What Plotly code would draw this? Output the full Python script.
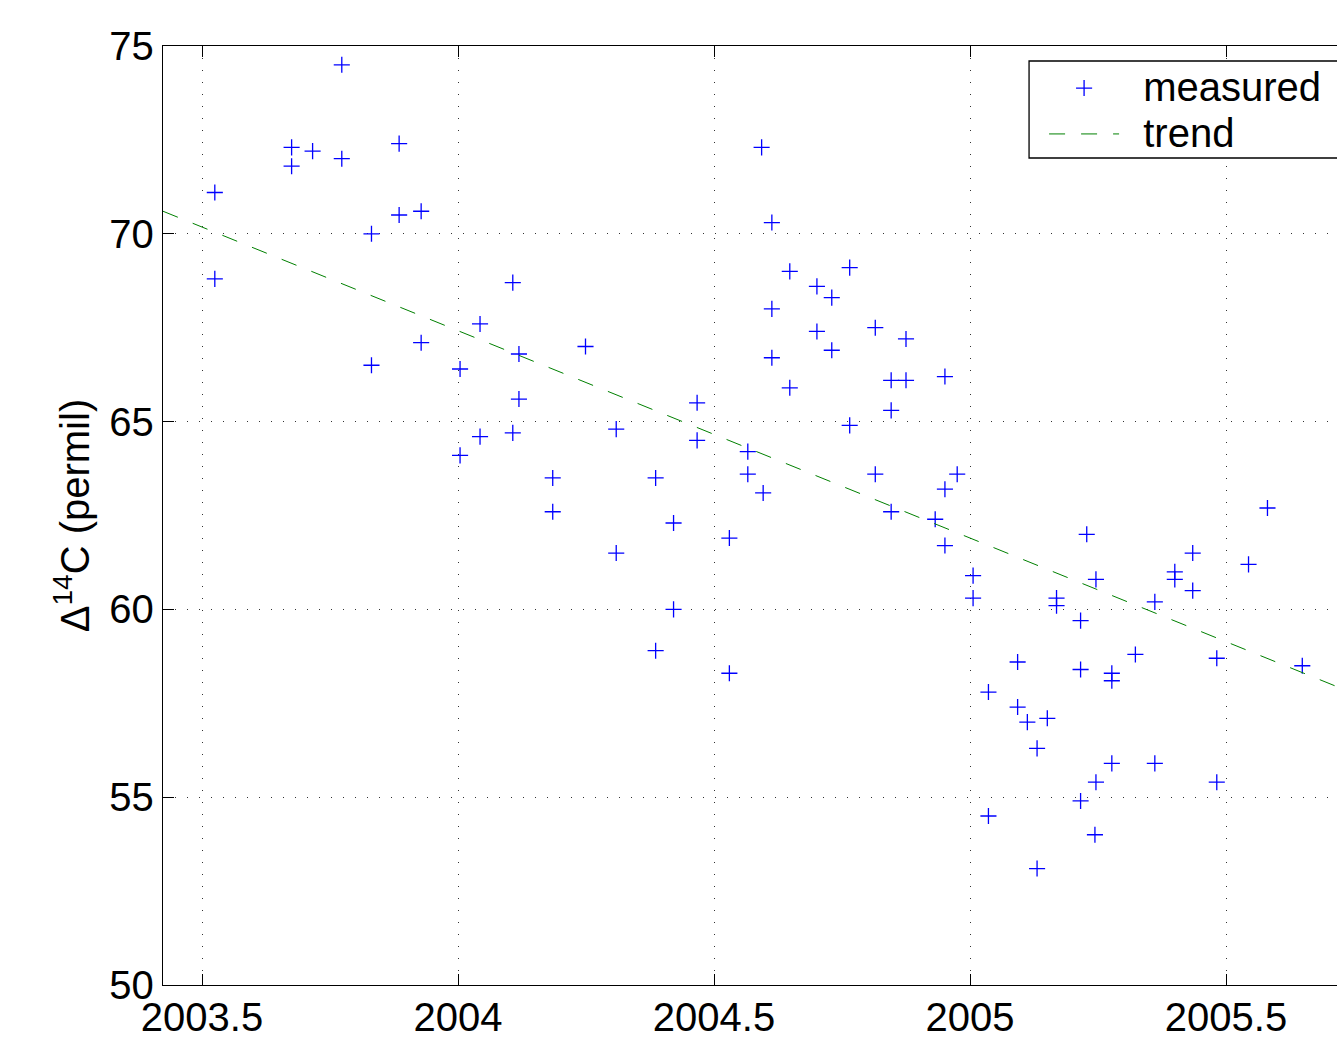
import plotly.graph_objects as go

# Measured data (decimal year, Delta14C permil)
years = [
    2003.525, 2003.525, 2003.675, 2003.675, 2003.716, 2003.773, 2003.773, 2003.831,
    2003.831, 2003.885, 2003.885, 2003.928, 2003.928, 2004.004, 2004.004,
    2004.043, 2004.043, 2004.107, 2004.107, 2004.119, 2004.119, 2004.185, 2004.185,
    2004.249, 2004.309, 2004.309, 2004.386, 2004.386, 2004.421, 2004.421, 2004.467,
    2004.467, 2004.530, 2004.530,
    2004.566, 2004.566, 2004.593, 2004.596, 2004.613, 2004.613, 2004.613, 2004.648,
    2004.648, 2004.701, 2004.701, 2004.730, 2004.730, 2004.765, 2004.765, 2004.815,
    2004.815, 2004.846, 2004.846, 2004.846, 2004.875, 2004.875, 2004.932, 2004.951,
    2004.951, 2004.951, 2004.975,
    2005.006, 2005.006, 2005.036, 2005.036, 2005.093, 2005.093, 2005.112, 2005.131,
    2005.131, 2005.151, 2005.169, 2005.169, 2005.216, 2005.216, 2005.216, 2005.228,
    2005.246, 2005.246, 2005.244, 2005.277, 2005.277, 2005.277, 2005.323,
    2005.361, 2005.361, 2005.400, 2005.400, 2005.435, 2005.435, 2005.482, 2005.482,
    2005.544, 2005.581, 2005.649,
]
delta14c = [
    71.1, 68.8, 72.3, 71.8, 72.2, 74.5, 72.0, 70.0,
    66.5, 72.4, 70.5, 70.6, 67.1, 66.4, 64.1,
    67.6, 64.6, 68.7, 64.7, 66.8, 65.6, 63.5, 62.6,
    67.0, 64.8, 61.5, 63.5, 58.9, 62.3, 60.0, 65.5,
    64.5, 61.9, 58.3,
    64.2, 63.6, 72.3, 63.1, 70.3, 68.0, 66.7, 69.0,
    65.9, 68.6, 67.4, 68.3, 66.9, 69.1, 64.9, 67.5,
    63.6, 66.1, 65.3, 62.6, 67.2, 66.1, 62.4, 66.2,
    63.2, 61.7, 63.6,
    60.9, 60.3, 57.8, 54.5, 58.6, 57.4, 57.0, 56.3,
    53.1, 57.1, 60.3, 60.1, 59.7, 58.4, 54.9, 62.0,
    60.8, 55.4, 54.0, 58.3, 58.1, 55.9, 58.8,
    60.2, 55.9, 61.0, 60.8, 61.5, 60.5, 58.7, 55.4,
    61.2, 62.7, 58.5,
]

# Linear trend parameters
trend_ref_year = 2004.5
trend_at_ref = 64.66
trend_slope = -5.52  # permil per year

# Axes
x_range = [2003.4238, 2005.7168]
y_range = [50, 75]
x_ticks = [2003.5, 2004, 2004.5, 2005, 2005.5]
x_tick_labels = ["2003.5", "2004", "2004.5", "2005", "2005.5"]
y_ticks = [50, 55, 60, 65, 70, 75]
y_tick_labels = ["50", "55", "60", "65", "70", "75"]

trend_x = list(x_range)
trend_y = [trend_at_ref + trend_slope * (x - trend_ref_year) for x in trend_x]

FONT = "Liberation Sans, Arial, Helvetica, sans-serif"

# legend frame (paper coordinates); it runs past the right edge as in the original
LEG_X0, LEG_X1 = 0.7377, 1.05
LEG_Y0, LEG_Y1 = 0.8807, 0.984


def big(txt):
    return '<span style="font-size:40px">&nbsp;&#8201;' + txt + '</span>'


fig = go.Figure()
fig.add_trace(go.Scatter(
    x=years, y=delta14c, mode="markers", name=big("measured"),
    marker=dict(symbol="cross-thin", size=11.5, color="#0000ff",
                line=dict(color="#0000ff", width=1.3)),
))
fig.add_trace(go.Scatter(
    x=trend_x, y=trend_y, mode="lines", name=big("trend"),
    line=dict(color="#008000", width=1, dash="16px,16px"),
))

axis_common = dict(
    showline=True, linecolor="black", linewidth=1.3,
    ticks="inside", ticklen=11, tickwidth=1, tickcolor="black",
    showgrid=True, gridcolor="#333333", gridwidth=1, griddash="1px,11px",
    zeroline=False, automargin=False,
    tickfont=dict(family=FONT, size=40, color="black"),
)

fig.add_shape(
    type="rect", xref="paper", yref="paper",
    x0=LEG_X0, x1=LEG_X1, y0=LEG_Y0, y1=LEG_Y1,
    fillcolor="white", line=dict(color="black", width=1.3), layer="above",
)

fig.update_layout(
    width=1337, height=1037,
    margin=dict(l=163, r=0, t=46, b=52),
    paper_bgcolor="white", plot_bgcolor="white",
    font=dict(family=FONT, size=40, color="black"),
    xaxis=dict(range=x_range, tickmode="array", tickvals=x_ticks,
               ticktext=x_tick_labels, mirror="ticks", ticklabelstandoff=-3,
               **axis_common),
    yaxis=dict(range=y_range, tickmode="array", tickvals=y_ticks,
               ticktext=y_tick_labels, mirror=False,
               title=dict(text="Δ<sup>14</sup>C (permil)",
                          font=dict(family=FONT, size=40, color="black"),
                          standoff=7),
               **axis_common),
    legend=dict(
        x=LEG_X0 + 0.0128, y=LEG_Y1 + 0.001, xanchor="left", yanchor="top",
        bgcolor="rgba(0,0,0,0)", borderwidth=0,
        font=dict(family=FONT, size=33, color="black"),
        itemwidth=70,
    ),
    showlegend=True,
)

fig.write_html(
    "out.html",
    config={"displayModeBar": False},
    post_script="document.body.style.margin='0';document.body.style.overflow='hidden';",
)
